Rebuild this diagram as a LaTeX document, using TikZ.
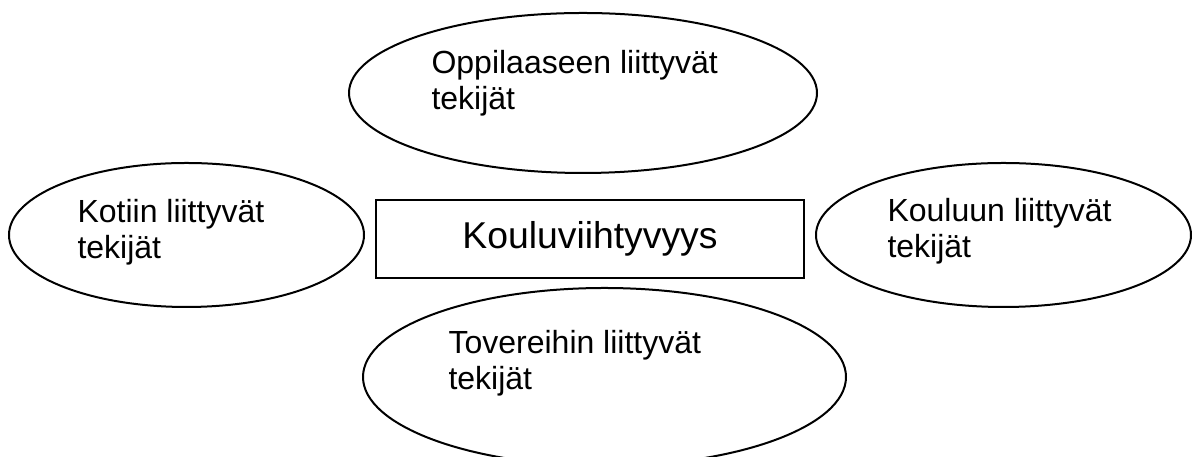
\documentclass[tikz,border=0pt]{standalone}
\usepackage{fontspec}
\setmainfont{Liberation Sans}
\usepackage{xcolor}
\usetikzlibrary{shapes.geometric,positioning}
\newcommand{\pxu}{0.375pt}

\begin{document}
\begin{tikzpicture}[
    x=\pxu, y=-\pxu,
    font=\fontsize{12}{13.6}\selectfont,
    bubble/.style={ellipse, draw=black, line width=0.75pt, inner sep=0pt},
    factortext/.style={anchor=base west, inner sep=0pt, align=left},
    core/.style={draw=black, line width=0.75pt, minimum width=428*\pxu, minimum height=78*\pxu, inner sep=0pt, font=\fontsize{14}{16}\selectfont}
  ]
  \useasboundingbox (0,0) rectangle (1192,457);

  % the four factor groups
  \node[bubble, minimum width=468*\pxu, minimum height=160*\pxu] (oppilas) at (583,93) {};
  \node[bubble, minimum width=355*\pxu, minimum height=144*\pxu] (koti) at (186.5,235) {};
  \node[bubble, minimum width=375*\pxu, minimum height=144*\pxu] (koulu) at (1003.5,235) {};
  \node[bubble, minimum width=483*\pxu, minimum height=178*\pxu] (toverit) at (604.5,377) {};

  % labels, placed by the baseline of their last line
  \node[factortext] (oppilasT) at (431,110) {Oppilaaseen liittyvät\\tekijät};
  \node[factortext] (kotiT) at (77,259) {Kotiin liittyvät\\tekijät};
  \node[factortext] (kouluT) at (887,258) {Kouluun liittyvät\\tekijät};
  \node[factortext] (toveritT) at (448,390) {Tovereihin liittyvät\\tekijät};

  % centre box
  \node[core] (viiht) at (590,239) {Kouluviihtyvyys};
\end{tikzpicture}
\end{document}
